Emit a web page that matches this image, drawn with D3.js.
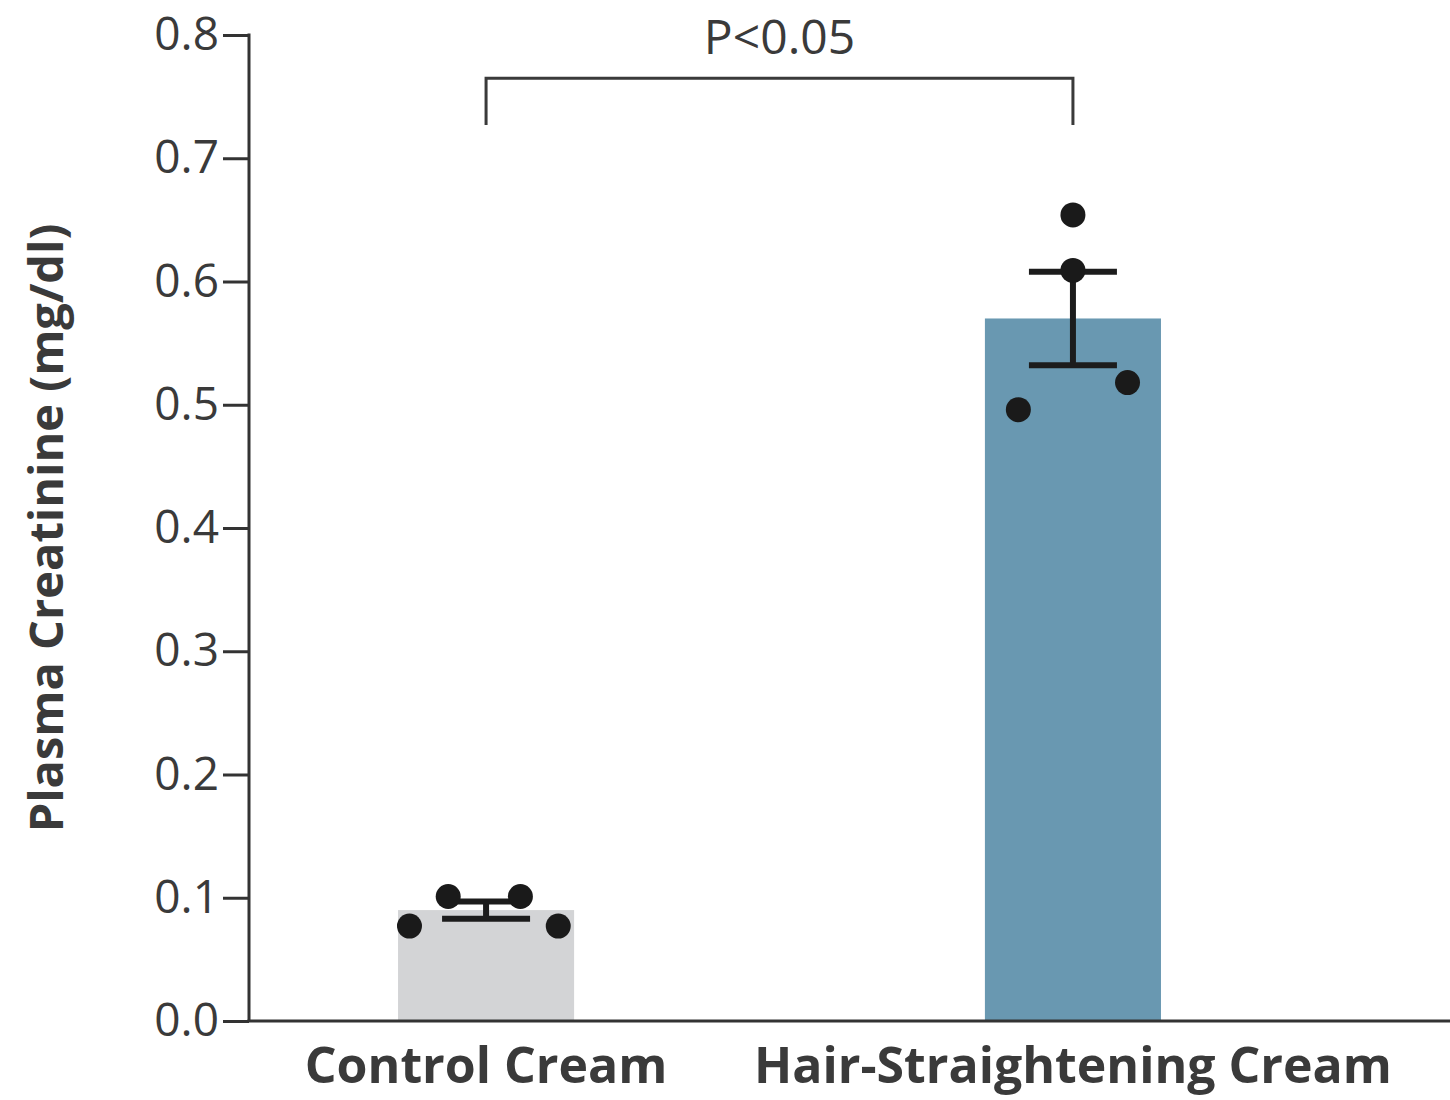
<!DOCTYPE html>
<html>
<head>
<meta charset="utf-8">
<script src="https://cdn.jsdelivr.net/npm/d3@7"></script>
<style>
	body { margin: 0; background: #fff; }
	svg text { font-family: "Open Sans", "Noto Sans", sans-serif; fill: #3a3a3a; }
</style>
</head>
<body>
<div id="chart-area"></div>
<script>
// data
var groups = ["Control Cream", "Hair-Straightening Cream"];
var means = [0.090, 0.570];
var sems = [0.007, 0.038];
var pointValues = [
	[0.077, 0.101, 0.101, 0.077],
	[0.654, 0.609, 0.518, 0.496]
];
// horizontal spread of the dots inside each bar (-1 .. 1 of half bar width)
var pointJitter = [
	[-0.87, -0.43, 0.39, 0.82],
	[0.0, 0.0, 0.62, -0.62]
];
var yTicks = [0.0, 0.1, 0.2, 0.3, 0.4, 0.5, 0.6, 0.7, 0.8];
var pLabel = "P<0.05";
var yLabel = "Plasma Creatinine (mg/dl)";
var barColors = ["#d3d4d6", "#6998b1"];

var W = 1450, H = 1100;
var margin = { top: 35, right: 0, bottom: 79, left: 249 };
var height = H - margin.top - margin.bottom;

var svg = d3.select("#chart-area")
	.append("svg")
	.attr("width", W)
	.attr("height", H);

var xScale = d3.scaleBand()
	.domain(groups)
	.range([310, 1249])
	.paddingInner(0.7)
	.paddingOuter(0.15);

var yScale = d3.scaleLinear()
	.domain([0, 0.8])
	.range([margin.top + height, margin.top]);

var bw = xScale.bandwidth();
var jitter = d3.scaleLinear().domain([-1, 1]).range([-bw / 2, bw / 2]);

// bars
svg.selectAll("rect.bar")
	.data(groups)
	.enter().append("rect")
	.attr("class", "bar")
	.attr("x", d => xScale(d))
	.attr("width", bw)
	.attr("y", (d, i) => yScale(means[i]))
	.attr("height", (d, i) => yScale(0) - yScale(means[i]))
	.attr("fill", (d, i) => barColors[i]);

// y axis
var yAxis = d3.axisLeft(yScale)
	.tickValues(yTicks)
	.tickFormat(d3.format(".1f"))
	.tickSize(26)
	.tickPadding(4);

var yAxisG = svg.append("g")
	.attr("transform", "translate(" + margin.left + ",0)")
	.call(yAxis);
yAxisG.select(".domain").remove();
yAxisG.selectAll(".tick line").attr("stroke", "#333").attr("stroke-width", 3);
yAxisG.selectAll(".tick text")
	.attr("font-size", "46px")
	.attr("fill", "#454545")
	.style("font-family", "'Open Sans', sans-serif");

svg.append("line")
	.attr("x1", margin.left).attr("x2", margin.left)
	.attr("y1", yScale(0.8) - 1.5).attr("y2", yScale(0))
	.attr("stroke", "#333").attr("stroke-width", 3);

// error bars
var capHalf = 44;
var eb = svg.selectAll("g.err")
	.data(groups)
	.enter().append("g")
	.attr("class", "err")
	.attr("transform", d => "translate(" + (xScale(d) + bw / 2) + ",0)");

eb.append("line")
	.attr("x1", 0).attr("x2", 0)
	.attr("y1", (d, i) => yScale(means[i] - sems[i]))
	.attr("y2", (d, i) => yScale(means[i] + sems[i]))
	.attr("stroke", "#1c1c1c").attr("stroke-width", 6);

eb.selectAll("line.cap")
	.data((d, i) => [means[i] - sems[i], means[i] + sems[i]])
	.enter().append("line")
	.attr("class", "cap")
	.attr("x1", -capHalf).attr("x2", capHalf)
	.attr("y1", d => yScale(d)).attr("y2", d => yScale(d))
	.attr("stroke", "#1c1c1c").attr("stroke-width", 6);

// individual points
groups.forEach((g, gi) => {
	svg.selectAll("circle.g" + gi)
		.data(pointValues[gi])
		.enter().append("circle")
		.attr("class", "g" + gi)
		.attr("cx", (d, i) => xScale(g) + bw / 2 + jitter(pointJitter[gi][i]))
		.attr("cy", d => yScale(d))
		.attr("r", 12.5)
		.attr("fill", "#1a1a1a");
});

// x axis
var xAxisG = svg.append("g")
	.attr("transform", "translate(0," + yScale(0) + ")")
	.call(d3.axisBottom(xScale).tickSize(0).tickPadding(26));
xAxisG.select(".domain").remove();
xAxisG.selectAll(".tick text")
	.attr("font-size", "50px")
	.attr("font-weight", "bold")
	.attr("fill", "#3a3a3a")
	.style("font-family", "'Open Sans', sans-serif");

svg.append("line")
	.attr("x1", margin.left - 1.5).attr("x2", W)
	.attr("y1", yScale(0)).attr("y2", yScale(0))
	.attr("stroke", "#333").attr("stroke-width", 3);

// y label
svg.append("text")
	.attr("transform", "translate(63," + ((yScale(0) + yScale(0.8)) / 2) + ") rotate(-90)")
	.attr("text-anchor", "middle")
	.attr("font-size", "47px")
	.attr("font-weight", "bold")
	.text(yLabel);

// significance bracket
var bx0 = xScale(groups[0]) + bw / 2, bx1 = xScale(groups[1]) + bw / 2;
var bTop = yScale(0.765), bEnd = yScale(0.727);
svg.append("path")
	.attr("d", "M" + bx0 + "," + bEnd + "V" + bTop + "H" + bx1 + "V" + bEnd)
	.attr("fill", "none")
	.attr("stroke", "#3a3a3a")
	.attr("stroke-width", 3);

svg.append("text")
	.attr("x", (bx0 + bx1) / 2)
	.attr("y", 54)
	.attr("text-anchor", "middle")
	.attr("font-size", "48px")
	.attr("fill", "#454545")
	.text(pLabel);
</script>
</body>
</html>
